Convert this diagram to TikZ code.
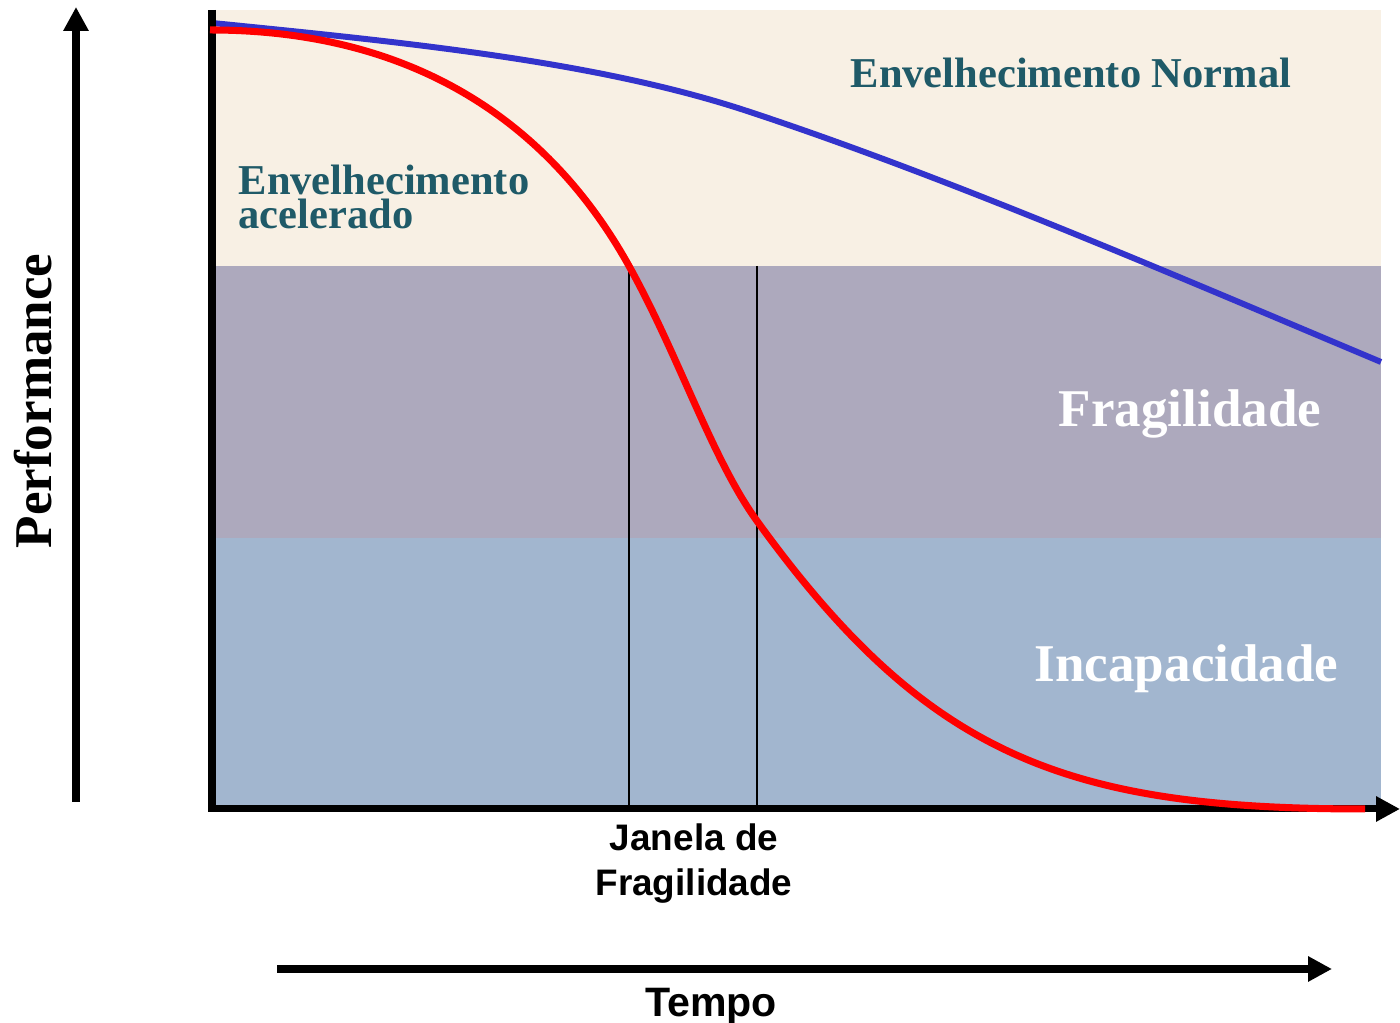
\documentclass[tikz,border=0pt]{standalone}
\usepackage{fontspec}
\setmainfont{Liberation Serif}
\newfontfamily\arialfont{Liberation Sans}
\usetikzlibrary{arrows.meta}

\definecolor{bandtop}{RGB}{248,240,228}
\definecolor{bandmid}{RGB}{173,169,189}
\definecolor{bandlow}{RGB}{162,182,207}
\definecolor{tealtext}{RGB}{31,90,104}
\definecolor{normalblue}{RGB}{51,51,204}

\begin{document}
\begin{tikzpicture}[
    axisline/.style={line width=2pt, -{Triangle[length=0.24cm, width=0.24cm]}},
    bandlabel/.style={font=\bfseries\fontsize{15.1}{17}\selectfont, text=white, inner sep=0pt},
    curvelabel/.style={font=\bfseries\fontsize{12.1}{9.7}\selectfont, text=tealtext, inner sep=0pt, align=left},
    sanslabel/.style={font=\arialfont\bfseries\fontsize{10.5}{13}\selectfont, inner sep=0pt, align=center}
  ]
    \useasboundingbox (0, 0) rectangle (14, 10.23);

    % Bands
    \fill [bandtop] (2.12, 10.13) rectangle (13.81, 7.57);
    \fill [bandmid] (2.12, 7.57) rectangle (13.81, 4.85);
    \fill [bandlow] (2.12, 4.85) rectangle (13.81, 2.14);

    % Normal ageing
    \draw [normalblue, line width=1.7pt] (2.12, 10.00)
          .. controls (4.12, 9.80) and (6.00, 9.61) .. (7.50, 9.11)
          .. controls (9.50, 8.45) and (11.81, 7.45) .. (13.81, 6.61);

    % Axes
    \draw [axisline] (2.12, 10.13) -- (2.12, 2.14) -- (14, 2.14);
    \draw [axisline] (0.76, 2.21) -- (0.76, 10.16);
    \draw [axisline] (2.77, 0.54) -- (13.32, 0.54);

    % Window
    \draw [line width=0.5pt] (6.29, 7.57) -- (6.29, 2.14);
    \draw [line width=0.5pt] (7.57, 7.57) -- (7.57, 2.14);

    % Accelerated ageing
    \draw [red, line width=2pt] (2.10, 9.93)
          .. controls (4.60, 9.93) and (5.75, 8.54) .. (6.29, 7.57)
          .. controls (6.79, 6.67) and (7.12, 5.64) .. (7.57, 5.02)
          .. controls (9.27, 2.67) and (10.65, 2.14) .. (13.65, 2.14);

    % Labels
    \node [curvelabel, anchor=base west] (normal) at (8.50, 9.35) {Envelhecimento Normal};
    \node [curvelabel, anchor=north west] (accel) at (2.38, 8.59) {Envelhecimento\\acelerado};
    \node [bandlabel, anchor=base west] (frag) at (10.58, 5.96) {Fragilidade};
    \node [bandlabel, anchor=base west] (incap) at (10.34, 3.41) {Incapacidade};
    \node [sanslabel, anchor=base] (window) at (6.94, 1.27) {Janela de\\Fragilidade};
    \node [sanslabel, font=\arialfont\bfseries\fontsize{11.7}{14}\selectfont, anchor=base] (time) at (7.11, 0.06) {Tempo};
    \node [bandlabel, text=black, rotate=90, anchor=base] (perf) at (0.51, 6.22) {Performance};
\end{tikzpicture}
\end{document}
